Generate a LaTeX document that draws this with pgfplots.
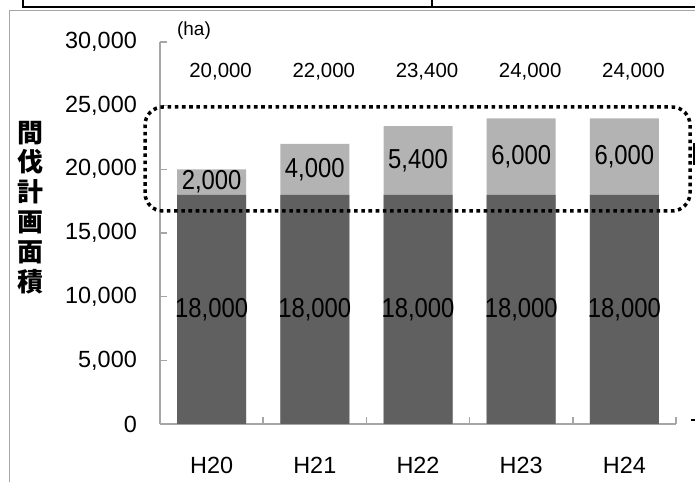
\documentclass[border=0pt]{standalone}
\usepackage{fontspec}
\setmainfont{Liberation Sans}
\newfontfamily\barfont{Liberation Sans}[FakeStretch=0.87]
\newfontfamily\cjk{Noto Sans CJK JP}
\usepackage{pgfplots}
\pgfplotsset{compat=1.18}
\definecolor{barDark}{HTML}{606060}
\definecolor{barLight}{HTML}{B3B3B3}
\definecolor{axGray}{HTML}{A6A6A6}

\begin{document}
\begin{tikzpicture}[x=1bp,y=1bp]
\path[use as bounding box] (0,0) rectangle (695,482);

\begin{axis}[
    at={(160bp,58bp)}, anchor=south west,
    scale only axis, width=516bp, height=382bp,
    xmin=-0.5, xmax=4.5, ymin=0, ymax=30000,
    axis x line=bottom, axis y line=left,
    axis line style={-, axGray, line width=1.5bp},
    xtick={-0.5,0.5,...,4.5}, x tick label as interval,
    xticklabels={H20,H21,H22,H23,H24},
    ytick={0,5000,...,30000}, scaled y ticks=false,
    tick align=inside, major tick length=7bp,
    tick style={axGray, line width=1.5bp},
    /pgf/number format/1000 sep={,},
    /pgf/number format/assume math mode=true,
    ticklabel style={font=\fontsize{23.5}{27}\selectfont, inner sep=0pt},
    yticklabel style={xshift=-23bp},
    xticklabel style={yshift=-33bp},
    clip=false,
  ]

  % total area
  \addplot[ybar, bar width=69bp, bar shift=0pt, fill=barLight, draw=none]
    coordinates {(0,20000) (1,22000) (2,23400) (3,24000) (4,24000)};
  % base part
  \addplot[ybar, bar width=69bp, bar shift=0pt, fill=barDark, draw=none]
    coordinates {(0,18000) (1,18000) (2,18000) (3,18000) (4,18000)};

  % segment labels
  \addplot[draw=none, nodes near coords, point meta=explicit symbolic,
    nodes near coords style={anchor=center, inner sep=0pt,
      font=\barfont\fontsize{27.5}{30}\selectfont}]
    table[meta=lab] {
      x y lab
      0 9000 18,000
      1 9000 18,000
      2 9000 18,000
      3 9000 18,000
      4 9000 18,000
      0 19000 2,000
      1 20000 4,000
      2 20700 5,400
      3 21000 6,000
      4 21000 6,000
    };

  % totals
  \addplot[draw=none, nodes near coords, point meta=explicit symbolic,
    nodes near coords style={anchor=center, inner sep=0pt, xshift=9bp,
      font=\fontsize{20.5}{24}\selectfont}]
    table[meta=lab] {
      x y lab
      0 27650 20,000
      1 27650 22,000
      2 27650 23,400
      3 27650 24,000
      4 27650 24,000
    };
\end{axis}

% y label
\node[align=center, inner sep=0pt, font=\cjk\bfseries\fontsize{26}{30}\selectfont]
  at (30,274.5) {間\\伐\\計\\画\\面\\積};
\node[inner sep=0pt, font=\fontsize{19}{22}\selectfont] at (194,451) {(ha)};

% frames
\draw[axGray, line width=1bp] (9,0) -- (9,471) -- (695,471);
\draw[black, line width=2bp] (23,482) -- (23,475) -- (695,475);
\draw[black, line width=2bp] (432,482) -- (432,475);
\draw[black, line width=1.5bp] (694,317) -- (694,339);
\draw[black, line width=1.5bp] (691,62) -- (695,62);

% dotted highlight
\draw[black, line width=3.5bp, dash pattern=on 3.6bp off 3.6bp, rounded corners=18bp]
  (145,271) rectangle (690,375);
\end{tikzpicture}
\end{document}
